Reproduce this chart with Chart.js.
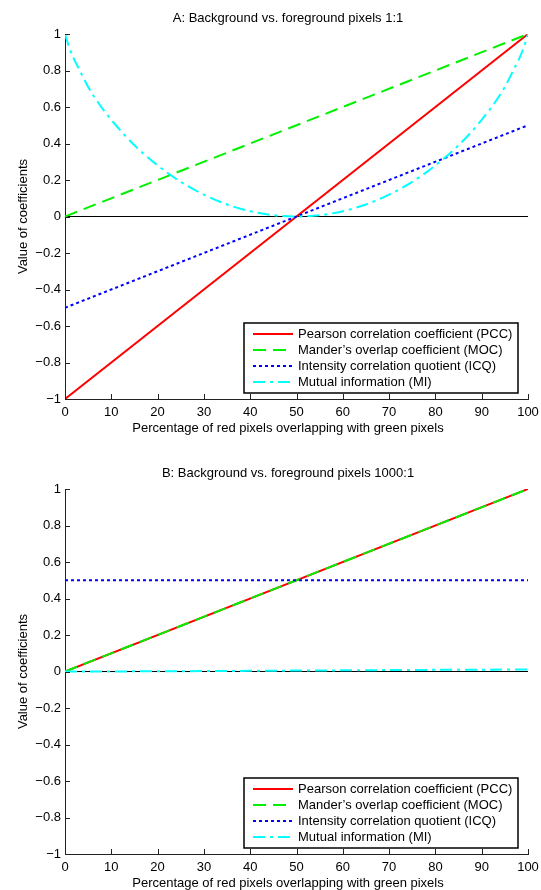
<!DOCTYPE html>
<html>
<head>
<meta charset="utf-8">
<script src="https://cdn.jsdelivr.net/npm/chart.js@4.4.1/dist/chart.umd.min.js"></script>
<style>
  html, body { margin: 0; padding: 0; background: #fff; overflow: hidden; }
  body { width: 541px; height: 890px; position: relative; }
  .panel { position: absolute; left: 0; width: 541px; height: 455px; }
</style>
</head>
<body>
<div class="panel" style="top:0"><canvas id="chartA" width="541" height="455"></canvas></div>
<div class="panel" style="top:455px"><canvas id="chartB" width="541" height="455"></canvas></div>
<script>
// series names (legend)
const seriesNames = [
  'Pearson correlation coefficient (PCC)',
  'Mander\u2019s overlap coefficient (MOC)',
  'Intensity correlation quotient (ICQ)',
  'Mutual information (MI)'
];

// percent of red pixels overlapping (x values)
const pctLine = [0, 100];
const pctMiA = [0, 1, 2, 3, 5, 7, 10, 15, 20, 25, 30, 35, 40, 45, 50, 55, 60, 65, 70, 75, 80, 85, 90, 93, 95, 97, 98, 99, 100];
const pctMiB = [0, 10, 20, 30, 40, 50, 60, 70, 80, 90, 100];

// panel A: background vs foreground 1:1
const pccA = [-1, 1];
const mocA = [0, 1];
const icqA = [-0.5, 0.5];
const miA = [1, 0.92, 0.86, 0.81, 0.71, 0.63, 0.53, 0.39, 0.28, 0.19, 0.12, 0.066, 0.029, 0.007, 0, 0.007, 0.029, 0.066, 0.12, 0.19, 0.28, 0.39, 0.53, 0.63, 0.71, 0.81, 0.86, 0.92, 1];

// panel B: background vs foreground 1000:1
const pccB = [0, 1];
const mocB = [0, 1];
const icqB = [0.5, 0.5];
const miB = [0, 0.0004, 0.0012, 0.0023, 0.0036, 0.005, 0.0064, 0.0078, 0.009, 0.0101, 0.011];

const xTicks = [0, 10, 20, 30, 40, 50, 60, 70, 80, 90, 100];
const yTicks = [-1, -0.8, -0.6, -0.4, -0.2, 0, 0.2, 0.4, 0.6, 0.8, 1];

const FONT = 'Liberation Sans, Arial, Helvetica, sans-serif';

function pts(xs, ys) {
  return xs.map((x, i) => ({ x: x, y: ys[i] }));
}

function fmt(v) {
  if (Math.abs(v) < 1e-9) return '0';
  return String(+v.toFixed(1)).replace('-', '\u2212');
}

function makeDatasets(pcc, moc, icq, miX, mi) {
  return [
    { label: seriesNames[0], data: pts(pctLine, pcc), borderColor: '#ff0000', borderWidth: 2, order: 4 },
    { label: seriesNames[1], data: pts(pctLine, moc), borderColor: '#00f000', borderWidth: 2, borderDash: [13, 7], order: 3 },
    { label: seriesNames[2], data: pts(pctLine, icq), borderColor: '#0000ff', borderWidth: 2, borderDash: [3, 3], order: 2 },
    { label: seriesNames[3], data: pts(miX, mi), borderColor: '#00ffff', borderWidth: 2, borderDash: [12, 5, 3, 5], cubicInterpolationMode: 'monotone', order: 1 }
  ];
}

// matlab style: inward ticks, titles, legend inside the axes
const matlabLook = {
  id: 'matlabLook',
  afterDraw(chart, args, opts) {
    const ctx = chart.ctx;
    const a = chart.chartArea;
    const xs = chart.scales.x, ys = chart.scales.y;
    ctx.save();
    ctx.strokeStyle = '#222';
    ctx.lineWidth = 1;
    ctx.beginPath();
    xTicks.forEach(v => {
      const px = Math.round(xs.getPixelForValue(v)) + 0.5;
      ctx.moveTo(px, a.bottom);
      ctx.lineTo(px, a.bottom - 5);
    });
    yTicks.forEach(v => {
      const py = Math.round(ys.getPixelForValue(v)) + 0.5;
      ctx.moveTo(a.left, py);
      ctx.lineTo(a.left + 5, py);
    });
    ctx.stroke();

    ctx.fillStyle = '#000';
    ctx.font = '13px ' + FONT;
    ctx.textAlign = 'center';
    ctx.textBaseline = 'middle';
    ctx.fillText(opts.title, 288, 18);
    ctx.fillText('Percentage of red pixels overlapping with green pixels', 288, a.bottom + 29);

    // legend
    const w = 274, h = 70;
    const lx = a.right - 10 - w, ly = a.bottom - 6 - h;
    ctx.fillStyle = '#fff';
    ctx.fillRect(lx, ly, w, h);
    ctx.strokeStyle = '#000';
    ctx.lineWidth = 1.5;
    ctx.strokeRect(lx, ly, w, h);
    ctx.textAlign = 'left';
    chart.data.datasets.forEach((ds, i) => {
      const cy = Math.round(ly + 10.5 + i * 16.3);
      ctx.strokeStyle = ds.borderColor;
      ctx.lineWidth = 2;
      ctx.setLineDash(ds.borderDash || []);
      ctx.beginPath();
      ctx.moveTo(lx + 9, cy);
      ctx.lineTo(lx + 49, cy);
      ctx.stroke();
      ctx.setLineDash([]);
      ctx.fillStyle = '#000';
      ctx.fillText(ds.label, lx + 54, cy);
    });
    ctx.restore();
  }
};

function build(id, title, datasets) {
  return new Chart(document.getElementById(id), {
    type: 'line',
    data: { datasets: datasets },
    plugins: [matlabLook],
    options: {
      responsive: false,
      devicePixelRatio: 1,
      animation: false,
      layout: { padding: { top: 34, left: 0, right: 13, bottom: 20 } },
      elements: { point: { radius: 0 }, line: { tension: 0, fill: false } },
      plugins: {
        legend: { display: false },
        tooltip: { enabled: false },
        matlabLook: { title: title }
      },
      scales: {
        x: {
          type: 'linear', min: 0, max: 100,
          afterFit: s => { s.height = 36; s.paddingLeft = 0; s.paddingRight = 0; },
          afterBuildTicks: s => { s.ticks = xTicks.map(v => ({ value: v })); },
          grid: { display: false, drawTicks: false },
          border: { display: true, color: '#222', width: 1 },
          ticks: { padding: 6, color: '#000', font: { family: FONT, size: 13 }, maxRotation: 0, callback: v => fmt(v) }
        },
        y: {
          type: 'linear', min: -1, max: 1,
          afterFit: s => { s.width = 65; s.paddingTop = 0; s.paddingBottom = 0; },
          afterBuildTicks: s => { s.ticks = yTicks.map(v => ({ value: v })); },
          grid: {
            drawTicks: false,
            lineWidth: 1,
            color: c => (c.tick && Math.abs(c.tick.value) < 1e-9) ? '#000' : 'rgba(0,0,0,0)'
          },
          border: { display: true, color: '#222', width: 1 },
          ticks: { padding: 4, color: '#000', font: { family: FONT, size: 13 }, callback: v => fmt(v) },
          title: { display: true, text: 'Value of coefficients', color: '#000', font: { family: FONT, size: 13 }, padding: { top: 16, bottom: 0 } }
        }
      }
    }
  });
}

build('chartA', 'A: Background vs. foreground pixels 1:1', makeDatasets(pccA, mocA, icqA, pctMiA, miA));
build('chartB', 'B: Background vs. foreground pixels 1000:1', makeDatasets(pccB, mocB, icqB, pctMiB, miB));
</script>
</body>
</html>
